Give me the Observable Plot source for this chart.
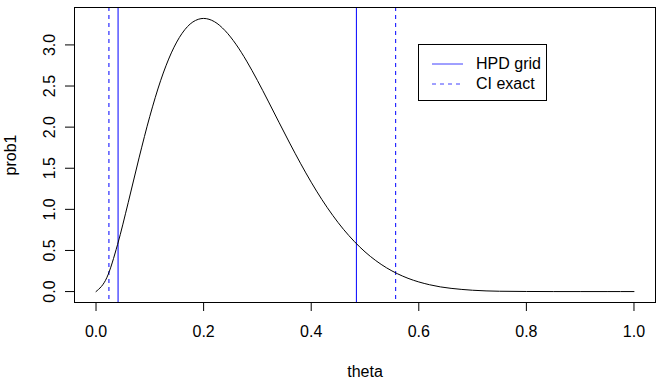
<!DOCTYPE html>
<html>
<head>
<meta charset="utf-8">
<script src="https://cdn.jsdelivr.net/npm/d3@7"></script>
<script src="https://cdn.jsdelivr.net/npm/@observablehq/plot@0.6"></script>
<style>
  html, body { margin: 0; padding: 0; background: #fff; }
  #wrap { position: relative; width: 667px; height: 385px; font-family: "Liberation Sans", Arial, sans-serif; }
  #legend { position: absolute; left: 418px; top: 44px; width: 129px; height: 57px; border: 1px solid #000; box-sizing: border-box; background: #fff; font-size: 16px; }
  #legend .row { position: absolute; left: 0; height: 20px; display: flex; align-items: center; }
  #legend svg { margin-left: 13px; margin-right: 13px; }
</style>
</head>
<body>
<div id="wrap"></div>
<script>
// theta grid and density values
const theta = [0, 0.02, 0.04, 0.06, 0.08, 0.10, 0.12, 0.14, 0.16, 0.18, 0.20, 0.22, 0.24, 0.26, 0.28, 0.30,
  0.32, 0.34, 0.36, 0.38, 0.40, 0.42, 0.44, 0.46, 0.48, 0.50, 0.52, 0.54, 0.56, 0.58, 0.60, 0.62, 0.64,
  0.66, 0.68, 0.70, 0.75, 0.80, 0.85, 0.90, 0.95, 1.00];
const prob1 = [0, 0.168, 0.571, 1.086, 1.626, 2.131, 2.564, 2.903, 3.141, 3.279, 3.322, 3.283, 3.173, 3.009,
  2.803, 2.568, 2.317, 2.060, 1.806, 1.561, 1.330, 1.118, 0.927, 0.757, 0.610, 0.483, 0.377, 0.289, 0.218,
  0.161, 0.117, 0.083, 0.057, 0.039, 0.026, 0.016, 0.004, 0.001, 0, 0, 0, 0];
const hpdGrid = [0.041, 0.484];
const ciExact = [0.024, 0.557];
const xTicks = [0, 0.2, 0.4, 0.6, 0.8, 1.0];
const yTicks = [0, 0.5, 1.0, 1.5, 2.0, 2.5, 3.0];
const legendLabels = ["HPD grid", "CI exact"];

const data = theta.map((t, i) => ({theta: t, prob1: prob1[i]}));
const fmt = d => d.toFixed(1);

const chart = Plot.plot({
  width: 667,
  height: 385,
  marginLeft: 74,
  marginRight: 12,
  marginTop: 7,
  marginBottom: 83,
  style: {fontFamily: "Liberation Sans, Arial, sans-serif", fontSize: "16px", background: "#fff", color: "#000"},
  x: {domain: [-0.04, 1.04]},
  y: {domain: [-0.133, 3.455]},
  marks: [
    Plot.ruleX(hpdGrid, {stroke: "#0000ff", strokeWidth: 1}),
    Plot.ruleX(ciExact, {stroke: "#0000ff", strokeWidth: 1, strokeDasharray: "4,4"}),
    Plot.line(data, {x: "theta", y: "prob1", stroke: "#000", strokeWidth: 1, curve: "monotone-x"}),
    Plot.frame({stroke: "#000"}),
    Plot.axisX({ticks: xTicks, tickFormat: fmt, tickSize: 9, tickPadding: 14, fontSize: 16,
      label: "theta", labelAnchor: "center", labelOffset: 74, labelArrow: "none"}),
    Plot.axisY({ticks: yTicks, tickFormat: fmt, tickSize: 9, tickPadding: 11, tickRotate: -90, fontSize: 16,
      label: "prob1", labelAnchor: "center", labelOffset: 70, labelArrow: "none"})
  ]
});

const wrap = document.getElementById("wrap");
wrap.appendChild(chart);

const legend = document.createElement("div");
legend.id = "legend";
legendLabels.forEach((lab, i) => {
  const row = document.createElement("div");
  row.className = "row";
  row.style.top = (9 + i * 19.5) + "px";
  const dash = i === 1 ? ' stroke-dasharray="4,4"' : '';
  row.innerHTML = `<svg width="31" height="4"><line x1="0" x2="31" y1="2" y2="2" stroke="#4040ff" stroke-width="1"${dash}/></svg><span>${lab}</span>`;
  legend.appendChild(row);
});
wrap.appendChild(legend);
</script>
</body>
</html>
